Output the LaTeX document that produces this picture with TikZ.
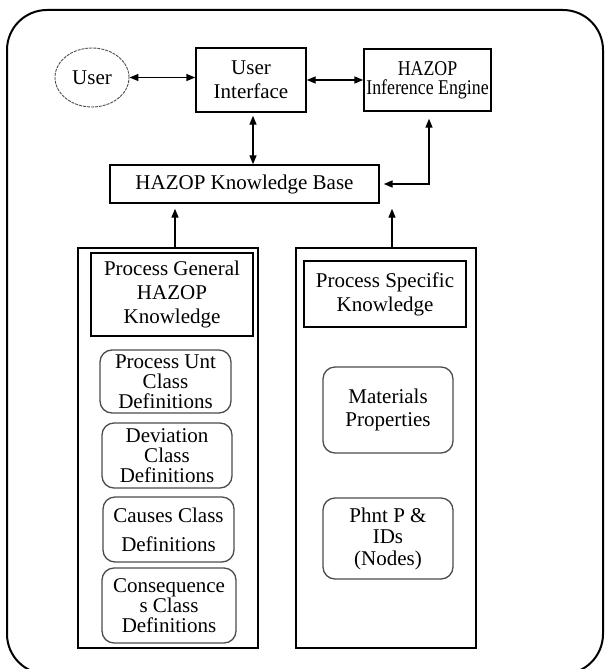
\documentclass[tikz,border=0pt]{standalone}
\usepackage{fontspec}
\usepackage{graphicx}
\setmainfont{Liberation Serif}
\usetikzlibrary{arrows.meta,shapes.geometric}
\tikzset{
  box/.style={draw,line width=1.4pt,inner sep=0pt,align=center},
  rbox/.style={draw=black!70,line width=1.3pt,rounded corners=12pt,inner sep=0pt,align=center,font=\fontsize{21}{20}\selectfont},
  tip/.style={-{Triangle[length=9pt,width=7pt]}},
  twotip/.style={{Triangle[length=9pt,width=7pt]}-{Triangle[length=9pt,width=7pt]}},
}
\begin{document}
\begin{tikzpicture}[x=1pt,y=-1pt,font=\fontsize{21}{24}\selectfont]
\pgfsetlinewidth{1.4pt}
\useasboundingbox (0,0) rectangle (610,669);
\begin{scope}
\clip (0,0) rectangle (610,669);
\draw[line width=2pt,rounded corners=40pt] (7,10) rectangle (603,674);
\end{scope}
% top row
\node[draw=black!70,line width=.9pt,dash pattern=on 3pt off 1pt,ellipse,minimum width=74pt,minimum height=59pt,inner sep=0pt] (user) at (92,77.5) {User};
\node[box,minimum width=110pt,minimum height=64pt] (ui) at (251,80) {User\\Interface};
\node[box,minimum width=127pt,minimum height=62pt,font=\fontsize{21}{19}\selectfont] (ie) at (427.5,80) {\scalebox{.85}[1]{HAZOP}\\\scalebox{.85}[1]{Inference Engine}};
\node[box,minimum width=269pt,minimum height=38pt] (kb) at (244.5,184) {HAZOP Knowledge Base};
% columns
\node[box,minimum width=180pt,minimum height=400pt] (gen) at (168,448) {};
\node[box,minimum width=180pt,minimum height=400pt] (spec) at (386,448) {};
\node[box,minimum width=162pt,minimum height=83pt] (genhead) at (172,294.5) {Process General\\HAZOP\\Knowledge};
\node[box,minimum width=162pt,minimum height=66pt] (spechead) at (385,294) {Process Specific\\Knowledge};
\node[rbox,minimum width=131pt,minimum height=63pt] (unit) at (165.5,381.5) {Process Unt\\Class\\Definitions};
\node[rbox,minimum width=130pt,minimum height=65pt] (dev) at (167,455.5) {Deviation\\Class\\Definitions};
\node[rbox,minimum width=131pt,minimum height=65pt,font=\fontsize{21}{29}\selectfont] (cause) at (168.5,529.5) {Causes Class\\Definitions};
\node[rbox,minimum width=134pt,minimum height=75pt] (conseq) at (169,605.5) {Consequence\\s Class\\Definitions};
\node[rbox,minimum width=130pt,minimum height=86pt,font=\fontsize{21}{23}\selectfont] (mat) at (388,410) {Materials\\Properties};
\node[rbox,minimum width=130pt,minimum height=81pt,font=\fontsize{21}{21.5}\selectfont] (pid) at (388,538.5) {Phnt P \&\\IDs\\(Nodes)};
% links
\draw[twotip] (user.east) -- (user.east -| ui.west);
\draw[twotip] (ui.east) -- (ie.west);
\draw[twotip,shorten <=3pt] ([xshift=2pt]ui.south) -- ([xshift=2pt]ui.south |- kb.north);
\draw[twotip,shorten <=7pt,shorten >=4pt] ([xshift=1.5pt]ie.south) |- (kb.east);
\draw[tip,shorten >=5pt] ([xshift=7pt]gen.north) -- ([xshift=7pt]gen.north |- kb.south);
\draw[tip,shorten >=5pt] ([xshift=6pt]spec.north) -- ([xshift=6pt]spec.north |- kb.south);
\end{tikzpicture}
\end{document}
